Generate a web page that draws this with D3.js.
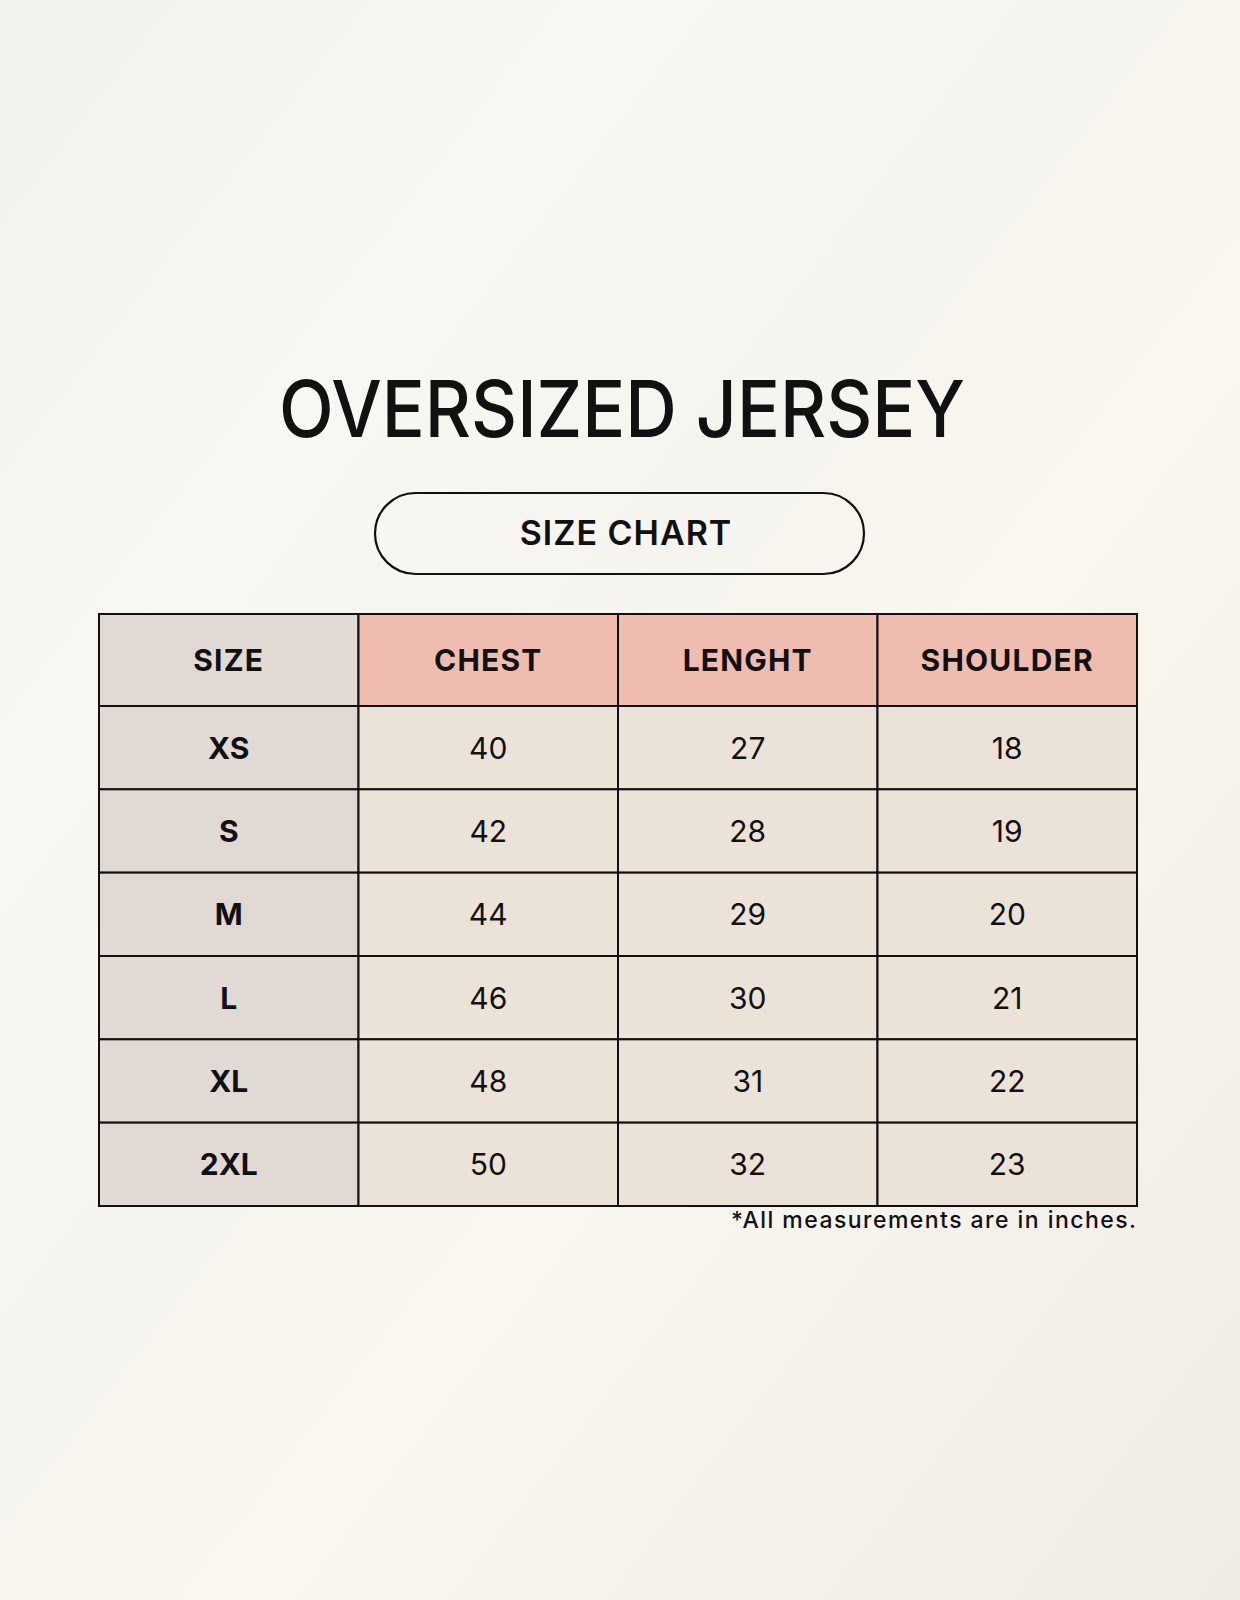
<!DOCTYPE html><html><head><meta charset="utf-8">
<script src="https://cdn.jsdelivr.net/npm/d3@7"></script>
<style>body{margin:0;background:#f8f6f0}</style></head><body>
<script>
const title="OVERSIZED JERSEY", subtitle="SIZE CHART", note="*All measurements are in inches.";
const columns=["SIZE","CHEST","LENGHT","SHOULDER"];
const sizes=["XS","S","M","L","XL","2XL"];
const chest=[40,42,44,46,48,50];
const length=[27,28,29,30,31,32];
const shoulder=[18,19,20,21,22,23];

const W=1240,H=1600;
const svg=d3.select("body").append("svg").attr("width",W).attr("height",H);
const defs=svg.append("defs");
const g=defs.append("linearGradient").attr("id","bg").attr("x1","0").attr("y1","0").attr("x2","1").attr("y2","1");
[["0%","#f3f1ec"],["25%","#f9f7f1"],["45%","#f6f4ee"],["60%","#faf7f0"],["80%","#f4f1eb"],["100%","#efebe5"]].forEach(s=>g.append("stop").attr("offset",s[0]).attr("stop-color",s[1]));
svg.append("rect").attr("width",W).attr("height",H).attr("fill","url(#bg)");

const F="Inter, 'Open Sans', sans-serif";
svg.append("text").attr("x",622).attr("y",437).attr("text-anchor","middle").attr("font-family",F).attr("font-size",78).attr("font-weight",500).attr("fill","#111")
  .attr("textLength",686).attr("lengthAdjust","spacingAndGlyphs").text(title);
svg.append("rect").attr("x",375).attr("y",493).attr("width",489).attr("height",81).attr("rx",40.5).attr("fill","none").attr("stroke","#111").attr("stroke-width",2.2);
svg.append("text").attr("x",626).attr("y",545).attr("text-anchor","middle").attr("font-family",F).attr("font-size",34).attr("font-weight",600).attr("letter-spacing",1).attr("fill","#111").text(subtitle);

const x=d3.scaleBand().domain(columns).range([99,1137]);
const rows=sizes.map((s,i)=>[s,chest[i],length[i],shoulder[i]]);
const tbl=svg.append("g");
columns.forEach((c,j)=>{
  tbl.append("rect").attr("x",x(c)).attr("y",614).attr("width",x.bandwidth()).attr("height",706-614)
   .attr("fill",j==0?"#e1d9d3":"#efbdb0").attr("stroke","#111").attr("stroke-width",2);
  tbl.append("text").attr("x",x(c)+x.bandwidth()/2).attr("y",671).attr("text-anchor","middle").attr("font-family",F).attr("font-size",30).attr("font-weight",700).attr("letter-spacing",1.2).attr("fill","#111").text(c);
});
const yb=d3.scaleBand().domain(sizes).range([706,1206]);
rows.forEach(r=>{
  r.forEach((v,j)=>{
    const c=columns[j];
    tbl.append("rect").attr("x",x(c)).attr("y",yb(r[0])).attr("width",x.bandwidth()).attr("height",yb.bandwidth())
     .attr("fill",j==0?"#e1d9d3":"#ebe3d8").attr("stroke","#111").attr("stroke-width",2);
    tbl.append("text").attr("x",x(c)+x.bandwidth()/2).attr("y",yb(r[0])+yb.bandwidth()/2+11).attr("text-anchor","middle").attr("font-family",F).attr("font-size",30).attr("font-weight",j==0?700:400).attr("fill","#111").text(v);
  });
});
svg.append("text").attr("x",1136).attr("y",1228).attr("text-anchor","end").attr("font-family",F).attr("font-size",23).attr("font-weight",500).attr("fill","#111")
  .attr("textLength",405).attr("lengthAdjust","spacing").text(note);
</script></body></html>
